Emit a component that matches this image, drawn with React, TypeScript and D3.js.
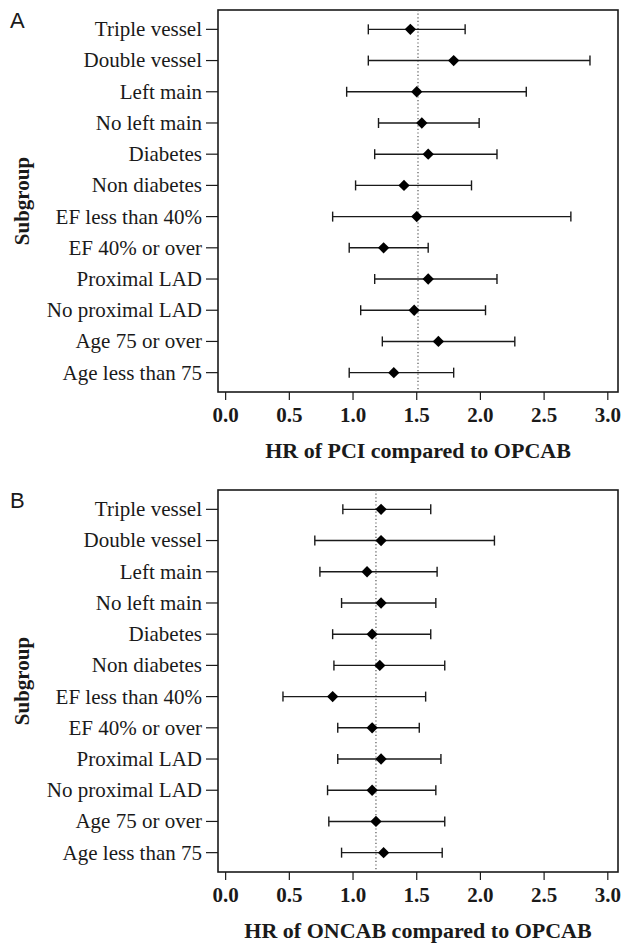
import * as d3 from "d3";
import { useEffect, useRef } from "react";

const subgroups = [
  "Triple vessel",
  "Double vessel",
  "Left main",
  "No left main",
  "Diabetes",
  "Non diabetes",
  "EF less than 40%",
  "EF 40% or over",
  "Proximal LAD",
  "No proximal LAD",
  "Age 75 or over",
  "Age less than 75",
];

const pciHr = [1.45, 1.79, 1.50, 1.54, 1.59, 1.40, 1.50, 1.24, 1.59, 1.48, 1.67, 1.32];
const pciLower = [1.12, 1.12, 0.95, 1.20, 1.17, 1.02, 0.84, 0.97, 1.17, 1.06, 1.23, 0.97];
const pciUpper = [1.88, 2.86, 2.36, 1.99, 2.13, 1.93, 2.71, 1.59, 2.13, 2.04, 2.27, 1.79];
const pciOverall = 1.51;

const oncabHr = [1.22, 1.22, 1.11, 1.22, 1.15, 1.21, 0.84, 1.15, 1.22, 1.15, 1.18, 1.24];
const oncabLower = [0.92, 0.70, 0.74, 0.91, 0.84, 0.85, 0.45, 0.88, 0.88, 0.80, 0.81, 0.91];
const oncabUpper = [1.61, 2.11, 1.66, 1.65, 1.61, 1.72, 1.57, 1.52, 1.69, 1.65, 1.72, 1.70];
const oncabOverall = 1.18;

const xTicks = [0, 0.5, 1, 1.5, 2, 2.5, 3];

const panels = [
  { letter: "A", hr: pciHr, lower: pciLower, upper: pciUpper, overall: pciOverall, xTitle: "HR of PCI compared to OPCAB" },
  { letter: "B", hr: oncabHr, lower: oncabLower, upper: oncabUpper, overall: oncabOverall, xTitle: "HR of ONCAB compared to OPCAB" },
];

const serif = "'Liberation Serif', 'Times New Roman', serif";
const ink = "#1a1a1a";

export default function App() {
  const ref = useRef<SVGSVGElement>(null);

  useEffect(() => {
    const svg = d3.select(ref.current);
    svg.selectAll("*").remove();

    const box = { left: 218, right: 618, top: 10, bottom: 392 };
    const panelStep = 480;

    const x = d3.scaleLinear().domain([-0.06, 3.08]).range([box.left, box.right]);
    const y = d3.scalePoint<string>().domain(subgroups).range([box.top, box.bottom]).padding(0.62);

    panels.forEach((p, pi) => {
      const g = svg.append("g").attr("transform", `translate(0, ${pi * panelStep})`);

      // panel letter
      g.append("text")
        .attr("x", 10)
        .attr("y", 28)
        .style("font-family", "'Liberation Sans', Arial, sans-serif")
        .style("font-size", "22px")
        .style("fill", ink)
        .text(p.letter);

      // frame
      g.append("rect")
        .attr("x", box.left)
        .attr("y", box.top)
        .attr("width", box.right - box.left)
        .attr("height", box.bottom - box.top)
        .style("fill", "none")
        .style("stroke", ink)
        .style("stroke-width", 1.6);

      // reference line
      g.append("line")
        .attr("x1", x(p.overall))
        .attr("x2", x(p.overall))
        .attr("y1", box.top)
        .attr("y2", box.bottom)
        .style("stroke", "#555")
        .style("stroke-width", 1.2)
        .style("stroke-dasharray", "1.2,2.4");

      // y ticks + labels
      subgroups.forEach((s) => {
        const yy = y(s)!;
        g.append("line")
          .attr("x1", box.left - 12)
          .attr("x2", box.left)
          .attr("y1", yy)
          .attr("y2", yy)
          .style("stroke", ink)
          .style("stroke-width", 1.2);
        g.append("text")
          .attr("x", box.left - 16)
          .attr("y", yy)
          .attr("dy", "0.33em")
          .attr("text-anchor", "end")
          .style("font-family", serif)
          .style("font-size", "21px")
          .style("fill", ink)
          .text(s);
      });

      // x ticks + labels
      xTicks.forEach((t) => {
        g.append("line")
          .attr("x1", x(t))
          .attr("x2", x(t))
          .attr("y1", box.bottom)
          .attr("y2", box.bottom + 8)
          .style("stroke", ink)
          .style("stroke-width", 1.2);
        g.append("text")
          .attr("x", x(t))
          .attr("y", box.bottom + 30)
          .attr("text-anchor", "middle")
          .style("font-family", serif)
          .style("font-weight", "bold")
          .style("font-size", "21px")
          .style("fill", ink)
          .text(d3.format(".1f")(t));
      });

      // axis titles
      g.append("text")
        .attr("x", (box.left + box.right) / 2)
        .attr("y", box.bottom + 66)
        .attr("text-anchor", "middle")
        .style("font-family", serif)
        .style("font-weight", "bold")
        .style("font-size", "22px")
        .style("fill", ink)
        .text(p.xTitle);

      g.append("text")
        .attr("transform", `translate(29, ${(box.top + box.bottom) / 2}) rotate(-90)`)
        .attr("text-anchor", "middle")
        .style("font-family", serif)
        .style("font-weight", "bold")
        .style("font-size", "21px")
        .style("fill", ink)
        .text("Subgroup");

      // error bars
      const bars = g.append("g");
      subgroups.forEach((s, i) => {
        const yy = y(s)!;
        bars.append("line")
          .attr("x1", x(p.lower[i]))
          .attr("x2", x(p.upper[i]))
          .attr("y1", yy)
          .attr("y2", yy)
          .style("stroke", ink)
          .style("stroke-width", 1.4);
        [p.lower[i], p.upper[i]].forEach((v) => {
          bars.append("line")
            .attr("x1", x(v))
            .attr("x2", x(v))
            .attr("y1", yy - 5)
            .attr("y2", yy + 5)
            .style("stroke", ink)
            .style("stroke-width", 1.4);
        });
      });

      // point estimates
      const diamond = d3.symbol().type(d3.symbolSquare).size(64);
      g.selectAll(".pt")
        .data(p.hr)
        .enter()
        .append("path")
        .attr("class", "pt")
        .attr("d", diamond)
        .attr("transform", (d, i) => `translate(${x(d)}, ${y(subgroups[i])}) rotate(45)`)
        .style("fill", "#000");
    });
  }, []);

  return (
    <svg
      ref={ref}
      width={624}
      height={950}
      style={{ position: "absolute", left: 0, top: 0, background: "#fff" }}
    ></svg>
  );
}
